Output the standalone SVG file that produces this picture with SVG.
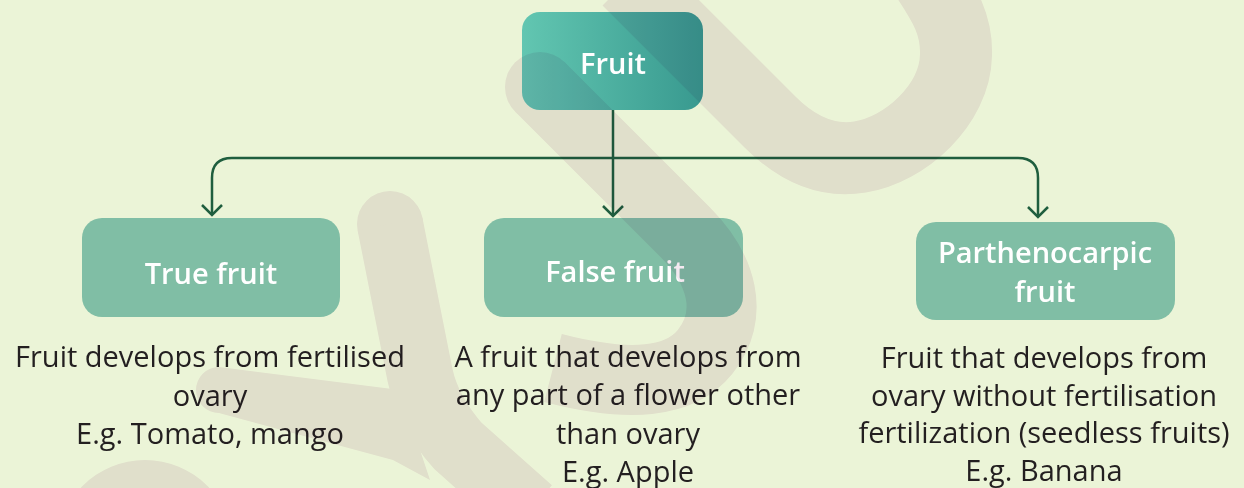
<svg xmlns="http://www.w3.org/2000/svg" width="1244" height="488" viewBox="0 0 1244 488">
  <style>
    .box { fill: #80bea5; }
    .lbl { font-family: "Open Sans", "Liberation Sans", sans-serif; font-weight: 600; font-size: 29px; fill: #ffffff; text-anchor: middle; }
    .desc { font-family: "Open Sans", "Liberation Sans", sans-serif; font-size: 29px; fill: #231f20; text-anchor: middle; }
    .conn { fill: none; stroke: #1f5e3e; stroke-width: 2.5; }
    .wm { fill: none; stroke: #f4e9f1; }
  </style>
  <defs>
    <linearGradient id="gFruit" x1="0" y1="0" x2="1" y2="0">
      <stop offset="0" stop-color="#62c6b1"/>
      <stop offset="1" stop-color="#38998f"/>
    </linearGradient>
    <marker id="arr" markerUnits="userSpaceOnUse" markerWidth="26" markerHeight="26" viewBox="-13 -13 26 26" refX="0" refY="0" orient="auto" overflow="visible">
      <path d="M-10,-10 L0,0 L-10,10" fill="none" stroke="#1f5e3e" stroke-width="2.5"/>
    </marker>
  </defs>

  <rect x="0" y="0" width="1244" height="488" fill="#ebf4d7"/>

  <g id="node-fruit">
    <rect x="522" y="12" width="181" height="98" rx="18" fill="url(#gFruit)"/>
    <text class="lbl" x="613" y="74" font-weight="700">Fruit</text>
  </g>

  <g id="node-true">
    <rect class="box" x="82" y="218" width="258" height="99" rx="20"/>
    <text class="lbl" x="211" y="284">True fruit</text>
    <text class="desc" x="210" y="367">Fruit develops from fertilised</text>
    <text class="desc" x="210" y="406">ovary</text>
    <text class="desc" x="210" y="444">E.g. Tomato, mango</text>
  </g>

  <g id="node-false">
    <rect class="box" x="484" y="218" width="259" height="99" rx="20"/>
    <text class="lbl" x="615" y="282">False fruit</text>
    <text class="desc" x="628" y="367">A fruit that develops from</text>
    <text class="desc" x="628" y="405">any part of a flower other</text>
    <text class="desc" x="628" y="444">than ovary</text>
    <text class="desc" x="628" y="482">E.g. Apple</text>
  </g>

  <g id="node-parthenocarpic">
    <rect class="box" x="916" y="222" width="259" height="98" rx="20"/>
    <text class="lbl" x="1045" y="263">Parthenocarpic</text>
    <text class="lbl" x="1045" y="302">fruit</text>
    <text class="desc" x="1044" y="368">Fruit that develops from</text>
    <text class="desc" x="1044" y="406">ovary without fertilisation</text>
    <text class="desc" x="1044" y="443">fertilization (seedless fruits)</text>
    <text class="desc" x="1044" y="481">E.g. Banana</text>
  </g>

  <g id="connectors">
    <path class="conn" d="M613,110 V216" marker-end="url(#arr)"/>
    <path class="conn" d="M613,158 H232 Q212,158 212,178 V215" marker-end="url(#arr)"/>
    <path class="conn" d="M613,158 H1018 Q1038,158 1038,178 V217" marker-end="url(#arr)"/>
  </g>

  <g id="watermark" style="mix-blend-mode:multiply">
    <circle cx="540" cy="87" r="35" fill="#f4e9f1"/>
    <path class="wm" stroke-width="70" d="M540,87 L685,232 C722,269 735,315 705,352 C680,383 630,388 553,368"/>
    <path class="wm" stroke-width="72" d="M628,-20 L770,122 C800,152 830,162 860,157 C905,150 955,105 956,55 C957,25 945,5 925,-25"/>
    <circle cx="390" cy="224" r="33" fill="#f4e9f1"/>
    <path class="wm" stroke-width="66" d="M390,224 L420,375 Q428,412 458,446 L530,510"/>
    <path fill="#f4e9f1" d="M219,367 L400,390 L430,480 L393,460 L219,413 A23,23 0 0 1 219,367 Z"/>
    <circle cx="145" cy="548" r="88" fill="#f4e9f1"/>
  </g>
</svg>
